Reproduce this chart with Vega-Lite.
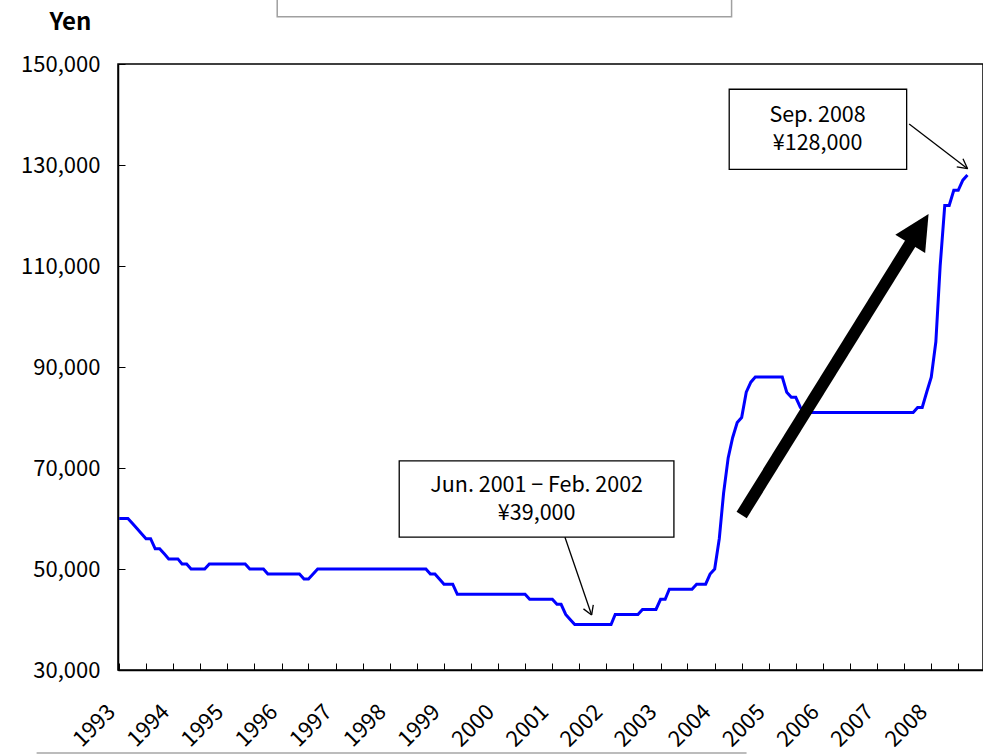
{
"$schema":"https://vega.github.io/schema/vega-lite/v6.json",
"width":865,"height":606,
"autosize":{"type":"none"},
"padding":{"left":118,"top":64,"right":0,"bottom":85},
"background":"white",
"config":{
 "view":{"stroke":"black","strokeWidth":1.5},
 "axis":{"labelFont":"Noto Sans CJK JP","labelFontSize":22,"labelColor":"black","domainColor":"black","domainWidth":1.5,"tickColor":"black","tickWidth":1,"grid":false,"titleFont":"Noto Sans CJK JP","titleColor":"black"},
 "text":{"font":"Noto Sans CJK JP"}
},
"datasets":{
 "series":[
{"d":"1993-01","v":60000},{"d":"1993-02","v":60000},{"d":"1993-03","v":60000},{"d":"1993-04","v":59000},{"d":"1993-05","v":58000},{"d":"1993-06","v":57000},{"d":"1993-07","v":56000},{"d":"1993-08","v":56000},{"d":"1993-09","v":54000},{"d":"1993-10","v":54000},{"d":"1993-11","v":53000},{"d":"1993-12","v":52000},
{"d":"1994-01","v":52000},{"d":"1994-02","v":52000},{"d":"1994-03","v":51000},{"d":"1994-04","v":51000},{"d":"1994-05","v":50000},{"d":"1994-06","v":50000},{"d":"1994-07","v":50000},{"d":"1994-08","v":50000},{"d":"1994-09","v":51000},{"d":"1994-10","v":51000},{"d":"1994-11","v":51000},{"d":"1994-12","v":51000},
{"d":"1995-01","v":51000},{"d":"1995-02","v":51000},{"d":"1995-03","v":51000},{"d":"1995-04","v":51000},{"d":"1995-05","v":51000},{"d":"1995-06","v":50000},{"d":"1995-07","v":50000},{"d":"1995-08","v":50000},{"d":"1995-09","v":50000},{"d":"1995-10","v":49000},{"d":"1995-11","v":49000},{"d":"1995-12","v":49000},
{"d":"1996-01","v":49000},{"d":"1996-02","v":49000},{"d":"1996-03","v":49000},{"d":"1996-04","v":49000},{"d":"1996-05","v":49000},{"d":"1996-06","v":48000},{"d":"1996-07","v":48000},{"d":"1996-08","v":49000},{"d":"1996-09","v":50000},{"d":"1996-10","v":50000},{"d":"1996-11","v":50000},{"d":"1996-12","v":50000},
{"d":"1997-01","v":50000},{"d":"1997-02","v":50000},{"d":"1997-03","v":50000},{"d":"1997-04","v":50000},{"d":"1997-05","v":50000},{"d":"1997-06","v":50000},{"d":"1997-07","v":50000},{"d":"1997-08","v":50000},{"d":"1997-09","v":50000},{"d":"1997-10","v":50000},{"d":"1997-11","v":50000},{"d":"1997-12","v":50000},
{"d":"1998-01","v":50000},{"d":"1998-02","v":50000},{"d":"1998-03","v":50000},{"d":"1998-04","v":50000},{"d":"1998-05","v":50000},{"d":"1998-06","v":50000},{"d":"1998-07","v":50000},{"d":"1998-08","v":50000},{"d":"1998-09","v":50000},{"d":"1998-10","v":49000},{"d":"1998-11","v":49000},{"d":"1998-12","v":48000},
{"d":"1999-01","v":47000},{"d":"1999-02","v":47000},{"d":"1999-03","v":47000},{"d":"1999-04","v":45000},{"d":"1999-05","v":45000},{"d":"1999-06","v":45000},{"d":"1999-07","v":45000},{"d":"1999-08","v":45000},{"d":"1999-09","v":45000},{"d":"1999-10","v":45000},{"d":"1999-11","v":45000},{"d":"1999-12","v":45000},
{"d":"2000-01","v":45000},{"d":"2000-02","v":45000},{"d":"2000-03","v":45000},{"d":"2000-04","v":45000},{"d":"2000-05","v":45000},{"d":"2000-06","v":45000},{"d":"2000-07","v":45000},{"d":"2000-08","v":44000},{"d":"2000-09","v":44000},{"d":"2000-10","v":44000},{"d":"2000-11","v":44000},{"d":"2000-12","v":44000},
{"d":"2001-01","v":44000},{"d":"2001-02","v":43000},{"d":"2001-03","v":43000},{"d":"2001-04","v":41000},{"d":"2001-05","v":40000},{"d":"2001-06","v":39000},{"d":"2001-07","v":39000},{"d":"2001-08","v":39000},{"d":"2001-09","v":39000},{"d":"2001-10","v":39000},{"d":"2001-11","v":39000},{"d":"2001-12","v":39000},
{"d":"2002-01","v":39000},{"d":"2002-02","v":39000},{"d":"2002-03","v":41000},{"d":"2002-04","v":41000},{"d":"2002-05","v":41000},{"d":"2002-06","v":41000},{"d":"2002-07","v":41000},{"d":"2002-08","v":41000},{"d":"2002-09","v":42000},{"d":"2002-10","v":42000},{"d":"2002-11","v":42000},{"d":"2002-12","v":42000},
{"d":"2003-01","v":44000},{"d":"2003-02","v":44000},{"d":"2003-03","v":46000},{"d":"2003-04","v":46000},{"d":"2003-05","v":46000},{"d":"2003-06","v":46000},{"d":"2003-07","v":46000},{"d":"2003-08","v":46000},{"d":"2003-09","v":47000},{"d":"2003-10","v":47000},{"d":"2003-11","v":47000},{"d":"2003-12","v":49000},
{"d":"2004-01","v":50000},{"d":"2004-02","v":56000},{"d":"2004-03","v":65000},{"d":"2004-04","v":72000},{"d":"2004-05","v":76000},{"d":"2004-06","v":79000},{"d":"2004-07","v":80000},{"d":"2004-08","v":85000},{"d":"2004-09","v":87000},{"d":"2004-10","v":88000},{"d":"2004-11","v":88000},{"d":"2004-12","v":88000},
{"d":"2005-01","v":88000},{"d":"2005-02","v":88000},{"d":"2005-03","v":88000},{"d":"2005-04","v":88000},{"d":"2005-05","v":85000},{"d":"2005-06","v":84000},{"d":"2005-07","v":84000},{"d":"2005-08","v":82000},{"d":"2005-09","v":81000},{"d":"2005-10","v":81000},{"d":"2005-11","v":81000},{"d":"2005-12","v":81000},
{"d":"2006-01","v":81000},{"d":"2006-02","v":81000},{"d":"2006-03","v":81000},{"d":"2006-04","v":81000},{"d":"2006-05","v":81000},{"d":"2006-06","v":81000},{"d":"2006-07","v":81000},{"d":"2006-08","v":81000},{"d":"2006-09","v":81000},{"d":"2006-10","v":81000},{"d":"2006-11","v":81000},{"d":"2006-12","v":81000},
{"d":"2007-01","v":81000},{"d":"2007-02","v":81000},{"d":"2007-03","v":81000},{"d":"2007-04","v":81000},{"d":"2007-05","v":81000},{"d":"2007-06","v":81000},{"d":"2007-07","v":81000},{"d":"2007-08","v":81000},{"d":"2007-09","v":81000},{"d":"2007-10","v":82000},{"d":"2007-11","v":82000},{"d":"2007-12","v":85000},
{"d":"2008-01","v":88000},{"d":"2008-02","v":95000},{"d":"2008-03","v":110000},{"d":"2008-04","v":122000},{"d":"2008-05","v":122000},{"d":"2008-06","v":125000},{"d":"2008-07","v":125000},{"d":"2008-08","v":127000},{"d":"2008-09","v":128000}
 ],
 "boxes":[{"d":"1998-03-05","d2":"2003-04-01","v":71400,"v2":56300},{"d":"2004-04-08","d2":"2007-07-19","v":145000,"v2":129150}],
 "legendbox":[{"d":"1995-12-03","d2":"2004-04-24","v":166000,"v2":159370}],
 "bottomline":[{"d":"1991-06-24","d2":"2004-08-03","v":13570}],
 "labels":[{"d":"2000-09-17","v":66530,"t":["Jun. 2001 − Feb. 2002","¥39,000"]},{"d":"2005-11-25","v":139800,"t":["Sep. 2008","¥128,000"]}],
 "pointers":[
  {"d":"2001-03-27","v":56300,"d2":"2001-09-23","v2":40900},
  {"d":"2001-07-30","v":42100,"d2":"2001-09-23","v2":40900},
  {"d":"2001-10-04","v":42900,"d2":"2001-09-23","v2":40900},
  {"d":"2007-08-05","v":138100,"d2":"2008-09-02","v2":129270},
  {"d":"2008-08-02","v":131250,"d2":"2008-09-02","v2":129270},
  {"d":"2008-06-21","v":129620,"d2":"2008-09-02","v2":129270}
 ],
 "bigshaft":[{"d":"2004-07-01","v":60700,"d2":"2007-08-17","v2":114650}],
 "bighead":[{"d":"2007-10-13","v":117330}]
},
"layer":[
 {"data":{"name":"series"},"mark":{"type":"line","color":"#0000FF","strokeWidth":3},
  "encoding":{
   "x":{"field":"d","type":"temporal",
    "scale":{"type":"utc","domain":[{"year":1992,"month":12,"date":24,"utc":true},{"year":2008,"month":12,"date":15,"utc":true}],"nice":false},
    "axis":{"title":null,"tickCount":{"interval":"month","step":6},"labelExpr":"utcmonth(datum.value)===0 ? utcFormat(datum.value,'%Y') : ''","labelAngle":-45,"labelAlign":"right","labelBaseline":"middle","labelPadding":45,"labelOffset":-8,"tickSize":-7,"labelOverlap":false,"labelFlush":false,"labelBound":false}},
   "y":{"field":"v","type":"quantitative",
    "scale":{"domain":[30000,150000],"nice":false,"zero":false},
    "axis":{"values":[30000,50000,70000,90000,110000,130000,150000],"labelExpr":"format(datum.value, ',')","title":"Yen","titleAngle":0,"titleX":-48,"titleY":-42,"titleAlign":"center","titleBaseline":"middle","titleFontSize":24,"titleFontWeight":"bold","labelPadding":25,"tickSize":-7,"labelBaseline":"middle","labelFlush":false,"labelOverlap":false}}
  }},
 {"data":{"name":"legendbox"},"mark":{"type":"rect","fill":"white","stroke":"#a0a0a0","strokeWidth":1.5},
  "encoding":{"x":{"field":"d","type":"temporal"},"x2":{"field":"d2"},"y":{"field":"v","type":"quantitative"},"y2":{"field":"v2"}}},
 {"data":{"name":"bottomline"},"mark":{"type":"rule","color":"#a6a6a6","strokeWidth":1.5},
  "encoding":{"x":{"field":"d","type":"temporal"},"x2":{"field":"d2"},"y":{"field":"v","type":"quantitative"}}},
 {"data":{"name":"bigshaft"},"mark":{"type":"rule","color":"black","strokeWidth":12,"strokeCap":"butt"},
  "encoding":{"x":{"field":"d","type":"temporal"},"x2":{"field":"d2"},"y":{"field":"v","type":"quantitative"},"y2":{"field":"v2"}}},
 {"data":{"name":"bighead"},"mark":{"type":"point","shape":"M0,-1L-1,1L1,1Z","filled":true,"color":"black","opacity":1,"size":1225,"angle":31.6,"strokeWidth":0},
  "encoding":{"x":{"field":"d","type":"temporal"},"y":{"field":"v","type":"quantitative"}}},
 {"data":{"name":"boxes"},"mark":{"type":"rect","fill":"white","stroke":"black","strokeWidth":1.3},
  "encoding":{"x":{"field":"d","type":"temporal"},"x2":{"field":"d2"},"y":{"field":"v","type":"quantitative"},"y2":{"field":"v2"}}},
 {"data":{"name":"pointers"},"mark":{"type":"rule","color":"black","strokeWidth":1.3},
  "encoding":{"x":{"field":"d","type":"temporal"},"x2":{"field":"d2"},"y":{"field":"v","type":"quantitative"},"y2":{"field":"v2"}}},
 {"data":{"name":"labels"},"mark":{"type":"text","align":"center","baseline":"middle","fontSize":21.5,"lineHeight":28,"color":"black","font":"Noto Sans CJK JP"},
  "encoding":{"x":{"field":"d","type":"temporal"},"y":{"field":"v","type":"quantitative"},"text":{"field":"t"}}}
]
}
